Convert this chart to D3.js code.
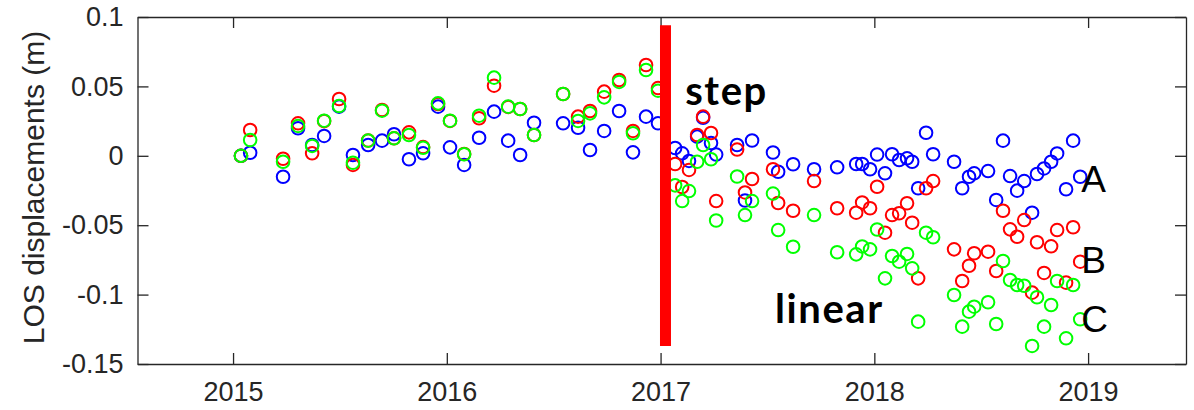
<!DOCTYPE html>
<html>
<head>
<meta charset="utf-8">
<script src="https://cdn.jsdelivr.net/npm/d3@7"></script>
<style>
body { margin: 0; background: #fff; }
svg { display: block; }
</style>
</head>
<body>
<svg id="chart"></svg>
<script>
// acquisition dates (decimal years)
var dates = [2015.037, 2015.080, 2015.234, 2015.304, 2015.370, 2015.426, 2015.496, 2015.561, 2015.632, 2015.697,
    2015.753, 2015.823, 2015.889, 2015.959, 2016.015, 2016.081, 2016.151, 2016.221, 2016.287, 2016.343,
    2016.408, 2016.544, 2016.614, 2016.670, 2016.736, 2016.806, 2016.871, 2016.932, 2016.988,
    2017.068, 2017.101, 2017.133, 2017.171, 2017.199, 2017.236, 2017.260, 2017.358, 2017.395, 2017.428,
    2017.526, 2017.550, 2017.620, 2017.718, 2017.826, 2017.915, 2017.943, 2017.980, 2018.013, 2018.050,
    2018.083, 2018.116, 2018.153, 2018.177, 2018.205, 2018.242, 2018.275, 2018.373, 2018.411, 2018.443,
    2018.467, 2018.532, 2018.570, 2018.602, 2018.635, 2018.668, 2018.701, 2018.738, 2018.761, 2018.794,
    2018.827, 2018.855, 2018.897, 2018.930, 2018.963];

// LOS displacement (m) for the three points
var seriesA = [0.0000, 0.0022, -0.0151, 0.0198, 0.0078, 0.0143, 0.0354, 0.0006, 0.0078, 0.0109,
    0.0155, -0.0025, 0.0018, 0.0354, 0.0061, -0.0066, 0.0130, 0.0318, 0.0109, 0.0006,
    0.0238, 0.0234, 0.0202, 0.0042, 0.0179, 0.0323, 0.0025, 0.0282, 0.0234,
    0.0056, 0.0018, -0.0037, 0.0138, 0.0274, 0.0092, 0.0009, 0.0078, -0.0322, 0.0110,
    0.0024, -0.0115, -0.0061, -0.0097, -0.0083, -0.0059, -0.0059, -0.0097, 0.0009, -0.0126,
    0.0011, -0.0030, -0.0018, -0.0043, -0.0234, 0.0166, 0.0011, -0.0043, -0.0234, -0.0151,
    -0.0126, -0.0110, -0.0318, 0.0109, -0.0146, -0.0251, -0.0182, -0.0410, -0.0131, -0.0091,
    -0.0043, 0.0017, -0.0241, 0.0109, -0.0151];
var seriesB = [0.0000, 0.0186, -0.0021, 0.0234, 0.0018, 0.0250, 0.0409, -0.0066, 0.0110, 0.0330,
    0.0126, 0.0169, 0.0063, 0.0373, 0.0251, 0.0013, 0.0270, 0.0505, 0.0352, 0.0337,
    0.0150, 0.0445, 0.0282, 0.0323, 0.0462, 0.0546, 0.0179, 0.0654, 0.0488,
    -0.0059, -0.0225, -0.0102, 0.0150, 0.0282, 0.0164, -0.0326, 0.0045, -0.0264, -0.0167,
    -0.0097, -0.0340, -0.0396, -0.0182, -0.0378, -0.0410, -0.0336, -0.0378, -0.0223, -0.0554,
    -0.0427, -0.0414, -0.0342, -0.0482, -0.0883, -0.0234, -0.0182, -0.0674, -0.0902, -0.0792,
    -0.0702, -0.0691, -0.0830, -0.0396, -0.0530, -0.0583, -0.0463, -0.0986, -0.0623, -0.0844,
    -0.0652, -0.0535, -0.0914, -0.0515, -0.0763];
var seriesC = [0.0000, 0.0114, -0.0043, 0.0215, 0.0071, 0.0253, 0.0359, -0.0050, 0.0109, 0.0325,
    0.0126, 0.0150, 0.0058, 0.0378, 0.0253, 0.0011, 0.0289, 0.0563, 0.0354, 0.0337,
    0.0150, 0.0445, 0.0251, 0.0306, 0.0421, 0.0532, 0.0162, 0.0618, 0.0469,
    -0.0213, -0.0326, -0.0254, -0.0043, 0.0078, -0.0025, -0.0466, -0.0149, -0.0427, -0.0326,
    -0.0272, -0.0535, -0.0655, -0.0427, -0.0695, -0.0710, -0.0653, -0.0674, -0.0531, -0.0883,
    -0.0722, -0.0763, -0.0707, -0.0811, -0.1195, -0.0554, -0.0587, -0.1003, -0.1231, -0.1123,
    -0.1087, -0.1055, -0.1212, -0.0758, -0.0895, -0.0931, -0.0936, -0.1370, -0.1019, -0.1231,
    -0.1075, -0.0902, -0.1315, -0.0931, -0.1178];

var seriesNames = ["A", "B", "C"];
var seriesColors = ["#0000ff", "#ff0000", "#00ff00"];
var xTicks = [2015, 2016, 2017, 2018, 2019];
var yTicks = [-0.15, -0.1, -0.05, 0, 0.05, 0.1];
var yTickLabels = ["-0.15", "-0.1", "-0.05", "0", "0.05", "0.1"];
var yLabel = "LOS displacements (m)";

// annotations
var stepDate = 2017.023;
var stepExtent = [0.094, -0.137];
var seriesLabelX = 2018.968;
var seriesLabelY = [-0.026, -0.0847, -0.1267];
var textNotes = [
    {text: "step", x: 2017.115, y: 0.0366},
    {text: "linear", x: 2017.535, y: -0.1205}
];

var width = 1194, height = 410;
var margin = {top: 17, right: 8, bottom: 46, left: 137.5};

var svg = d3.select("#chart")
    .attr("width", width)
    .attr("height", height);

var x = d3.scaleLinear()
    .domain([2014.553, 2019.458])
    .range([margin.left, width - margin.right]);
var y = d3.scaleLinear()
    .domain([-0.15, 0.1])
    .range([height - margin.bottom, margin.top]);

var tickFont = "Liberation Sans, Arial, Helvetica, sans-serif";

// axes (box with inward ticks on all four sides)
var gx = svg.append("g")
    .attr("transform", "translate(0," + (height - margin.bottom) + ")")
    .call(d3.axisBottom(x).tickValues(xTicks).tickFormat(d3.format("d"))
        .tickSizeInner(-11).tickSizeOuter(0).tickPadding(18));
var gxTop = svg.append("g")
    .attr("transform", "translate(0," + margin.top + ")")
    .call(d3.axisTop(x).tickValues(xTicks).tickFormat("")
        .tickSizeInner(-11).tickSizeOuter(0));
var gy = svg.append("g")
    .attr("transform", "translate(" + margin.left + ",0)")
    .call(d3.axisLeft(y).tickValues(yTicks)
        .tickFormat(function (d, i) { return yTickLabels[i]; })
        .tickSizeInner(-11).tickSizeOuter(0).tickPadding(14));
var gyRight = svg.append("g")
    .attr("transform", "translate(" + (width - margin.right) + ",0)")
    .call(d3.axisRight(y).tickValues(yTicks).tickFormat("")
        .tickSizeInner(-11).tickSizeOuter(0));

svg.selectAll(".domain, .tick line")
    .attr("stroke", "#262626")
    .attr("stroke-width", 1.3);
svg.selectAll(".tick text")
    .attr("fill", "#262626")
    .style("font-family", tickFont)
    .style("font-size", "27px");

svg.append("text")
    .attr("transform", "rotate(-90)")
    .attr("x", -187.5)
    .attr("y", 44)
    .attr("text-anchor", "middle")
    .attr("fill", "#262626")
    .style("font-family", tickFont)
    .style("font-size", "30px")
    .text(yLabel);

// markers, blue first, green on top
var allSeries = [seriesA, seriesB, seriesC];
allSeries.forEach(function (values, k) {
    svg.append("g")
        .selectAll("circle")
        .data(values)
        .enter()
        .append("circle")
        .attr("cx", function (d, i) { return x(dates[i]); })
        .attr("cy", function (d) { return y(d); })
        .attr("r", 6.3)
        .attr("fill", "none")
        .attr("stroke", seriesColors[k])
        .attr("stroke-width", 2);
});

// step marker
svg.append("line")
    .attr("x1", x(stepDate))
    .attr("x2", x(stepDate))
    .attr("y1", y(stepExtent[0]))
    .attr("y2", y(stepExtent[1]))
    .attr("stroke", "#ff0000")
    .attr("stroke-width", 11);

svg.selectAll(".note")
    .data(textNotes)
    .enter()
    .append("text")
    .attr("class", "note")
    .attr("x", function (d) { return x(d.x); })
    .attr("y", function (d) { return y(d.y); })
    .attr("fill", "#000")
    .style("font-family", "Lato, 'Open Sans', sans-serif")
    .style("font-weight", "bold")
    .style("font-size", "40px")
    .style("letter-spacing", "1.6px")
    .text(function (d) { return d.text; });

svg.selectAll(".series-label")
    .data(seriesNames)
    .enter()
    .append("text")
    .attr("class", "series-label")
    .attr("x", x(seriesLabelX))
    .attr("y", function (d, i) { return y(seriesLabelY[i]); })
    .attr("fill", "#000")
    .style("font-family", tickFont)
    .style("font-size", "37px")
    .text(function (d) { return d; });
</script>
</body>
</html>
